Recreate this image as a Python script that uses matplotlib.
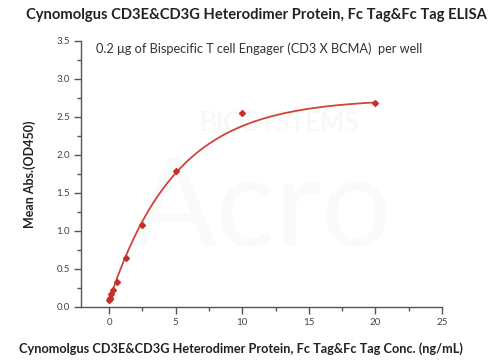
import numpy as np
import matplotlib.pyplot as plt
from matplotlib.ticker import MultipleLocator

# ELISA dilution series (ng/mL) and mean OD450 readings
conc = [20, 10, 5, 2.5, 1.25, 0.625, 0.3125, 0.156, 0.078, 0.039, 0.0195]
od450 = [2.68, 2.55, 1.79, 1.08, 0.65, 0.33, 0.22, 0.17, 0.12, 0.10, 0.09]

# one-phase association fit: baseline, span, rate constant (per ng/mL)
fit_base, fit_span, fit_k = 0.08, 2.66, 0.20

title = 'Cynomolgus CD3E&CD3G Heterodimer Protein, Fc Tag&Fc Tag ELISA'
note = '0.2 \u03bcg of Bispecific T cell Engager (CD3 X BCMA)  per well'
xlabel = 'Cynomolgus CD3E&CD3G Heterodimer Protein, Fc Tag&Fc Tag Conc. (ng/mL)'
ylabel = 'Mean Abs.(OD450)'

red = '#c7302a'
grey = '#555555'


def fit_curve(x):
    x = np.asarray(x, float)
    return fit_base + fit_span * (1.0 - np.exp(-fit_k * x))


xs = np.linspace(min(conc), max(conc), 400)

plt.rcParams['font.family'] = ['Lato', 'DejaVu Sans']

fig = plt.figure(figsize=(5.04, 3.62), dpi=100)
ax = fig.add_axes([0.161, 0.152, 0.716, 0.735])

# faint watermark
ax.text(0.55, 0.69, 'BIOSYSTEMS', transform=ax.transAxes, fontsize=19,
        color='#f6f7f7', ha='center', va='center', zorder=0)
ax.text(0.50, 0.36, 'Acro', transform=ax.transAxes, fontsize=90,
        color='#f9fafa', ha='center', va='center', zorder=0)

ax.plot(xs, fit_curve(xs), color='#d0443a', lw=1.3, zorder=2)
ax.plot(conc, od450, linestyle='none', marker='D', ms=3, color=red, zorder=3)

ax.set_xlim(-2.1, 25)
ax.set_ylim(0, 3.5)
ax.xaxis.set_major_locator(MultipleLocator(5))
ax.xaxis.set_minor_locator(MultipleLocator(2.5))
ax.yaxis.set_major_locator(MultipleLocator(0.5))
ax.yaxis.set_minor_locator(MultipleLocator(0.25))
ax.yaxis.set_major_formatter(lambda v, p: f'{v:.1f}')

for s in ['top', 'right']:
    ax.spines[s].set_visible(False)
for s in ['left', 'bottom']:
    ax.spines[s].set_color(grey)
    ax.spines[s].set_linewidth(1.0)

ax.tick_params(which='major', direction='out', length=5, width=1, color=grey,
               labelsize=7, labelcolor='#444444', pad=3)
ax.tick_params(which='minor', direction='out', length=3, width=1, color=grey)

ax.text(0.04, 0.995, note, transform=ax.transAxes, fontsize=9.2,
        color='#333333', ha='left', va='top')

fig.text(0.508, 0.958, title, fontsize=10.6, fontweight='bold',
         ha='center', va='center', color='#222222')
fig.text(0.478, 0.036, xlabel, fontsize=9.2, fontweight='bold',
         ha='center', va='center', color='#222222')
ax.set_ylabel(ylabel, fontsize=9, fontweight='bold', color='#222222')
ax.yaxis.set_label_coords(-0.125, 0.5)

fig.savefig('out.png', dpi=100)
